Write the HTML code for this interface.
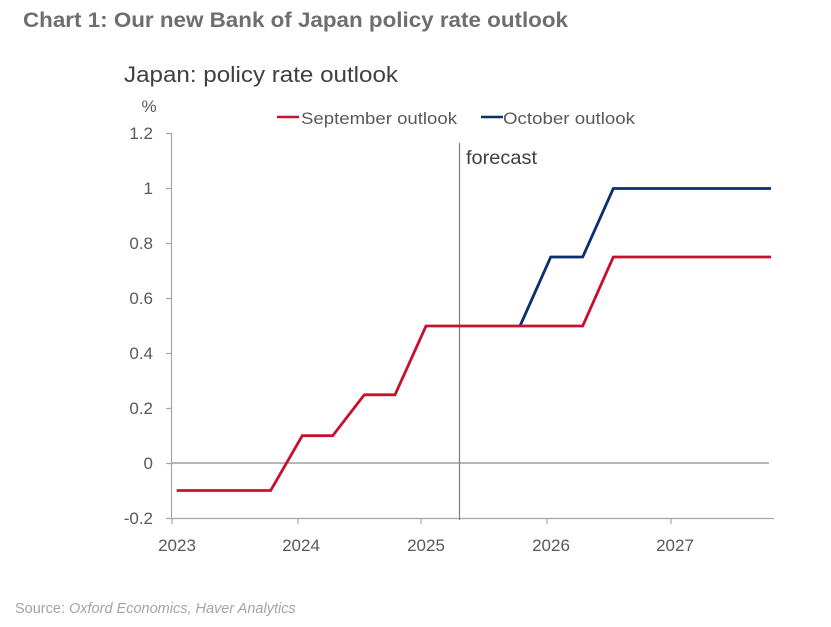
<!DOCTYPE html>
<html><head><meta charset="utf-8"><style>
html,body{margin:0;padding:0;background:#fff;}
svg{display:block;}
</style></head><body>
<svg width="831" height="627" viewBox="0 0 831 627" xmlns="http://www.w3.org/2000/svg" font-family="'Liberation Sans', sans-serif">
<rect width="831" height="627" fill="#fff"/>
<text x="23" y="27" font-size="21" font-weight="bold" fill="#6e6e6e" textLength="545" lengthAdjust="spacingAndGlyphs">Chart 1: Our new Bank of Japan policy rate outlook</text>
<text x="124" y="82" font-size="22" fill="#404040" textLength="274" lengthAdjust="spacingAndGlyphs">Japan: policy rate outlook</text>
<text x="149" y="112" font-size="17" fill="#595959" text-anchor="middle">%</text>
<!-- legend -->
<line x1="277" y1="117" x2="299" y2="117" stroke="#c8102e" stroke-width="2.5"/>
<text x="301" y="124" font-size="17" fill="#595959" textLength="156" lengthAdjust="spacingAndGlyphs">September outlook</text>
<line x1="481" y1="117" x2="503" y2="117" stroke="#0b2f6e" stroke-width="2.5"/>
<text x="503" y="124" font-size="17" fill="#595959" textLength="132" lengthAdjust="spacingAndGlyphs">October outlook</text>
<!-- y axis -->
<g stroke="#a6a6a6" stroke-width="1.2">
<line x1="171.5" y1="133" x2="171.5" y2="519"/>
<line x1="166" y1="133.5" x2="171.5" y2="133.5"/>
<line x1="166" y1="188.5" x2="171.5" y2="188.5"/>
<line x1="166" y1="243.5" x2="171.5" y2="243.5"/>
<line x1="166" y1="298.5" x2="171.5" y2="298.5"/>
<line x1="166" y1="353.5" x2="171.5" y2="353.5"/>
<line x1="166" y1="408.5" x2="171.5" y2="408.5"/>
<line x1="166" y1="463.5" x2="171.5" y2="463.5"/>
<line x1="166" y1="518.5" x2="774" y2="518.5"/>
<line x1="172" y1="518.5" x2="172" y2="524"/>
<line x1="298" y1="518.5" x2="298" y2="524"/>
<line x1="421" y1="518.5" x2="421" y2="524"/>
<line x1="547" y1="518.5" x2="547" y2="524"/>
<line x1="671" y1="518.5" x2="671" y2="524"/>
</g>
<line x1="171.5" y1="463" x2="769" y2="463" stroke="#8c8c8c" stroke-width="1.2"/>
<line x1="459.5" y1="143" x2="459.5" y2="520" stroke="#7f7f7f" stroke-width="1.2"/>
<text x="466" y="164" font-size="19" fill="#404040" textLength="71" lengthAdjust="spacingAndGlyphs">forecast</text>
<!-- y labels -->
<g font-size="17" fill="#595959" text-anchor="end">
<text x="153" y="139">1.2</text>
<text x="153" y="194">1</text>
<text x="153" y="249">0.8</text>
<text x="153" y="304">0.6</text>
<text x="153" y="359">0.4</text>
<text x="153" y="414">0.2</text>
<text x="153" y="469">0</text>
<text x="153" y="524">-0.2</text>
</g>
<!-- x labels -->
<g font-size="17" fill="#595959" text-anchor="middle">
<text x="177" y="551">2023</text>
<text x="301" y="551">2024</text>
<text x="426" y="551">2025</text>
<text x="551" y="551">2026</text>
<text x="675" y="551">2027</text>
</g>
<!-- series -->
<polyline fill="none" stroke="#0b2f6e" stroke-width="2.8" stroke-linejoin="miter" points="520,326 550.7,257 582.7,257 613.3,188.5 771,188.5"/>
<polyline fill="none" stroke="#c8102e" stroke-width="2.8" stroke-linejoin="miter" points="176.7,490.5 270.7,490.5 302.3,435.7 332.7,435.7 364.3,394.8 395,394.8 426,326 582.7,326 613.3,257 771,257"/>
<!-- source -->
<text x="15" y="613" font-size="14.5" fill="#a3a3ab"><tspan>Source: </tspan><tspan font-style="italic">Oxford Economics, Haver Analytics</tspan></text>
</svg>
</body></html>
